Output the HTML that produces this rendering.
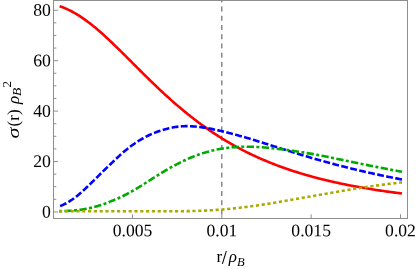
<!DOCTYPE html>
<html><head><meta charset="utf-8"><title>plot</title>
<style>
html,body{margin:0;padding:0;background:#fff;}
body{width:416px;height:269px;overflow:hidden;}
svg{display:block;will-change:transform;}
text{font-family:"Liberation Serif",serif;fill:#000;}
</style></head><body>
<svg width="416" height="269" viewBox="0 0 416 269">
<rect x="0" y="0" width="416" height="269" fill="#fff"/>
<defs><clipPath id="c"><rect x="53.50" y="0.00" width="354.00" height="218.50"/></clipPath></defs>
<line x1="221.84" y1="-2.65" x2="221.84" y2="218.50" stroke="#4d4d4d" stroke-width="1" stroke-dasharray="5.0 4.22" clip-path="url(#c)"/>
<path d="M59.60 6.29 L60.44 6.56 L61.87 7.05 L63.31 7.58 L64.74 8.15 L66.18 8.75 L67.61 9.39 L69.05 10.06 L70.48 10.77 L71.92 11.51 L73.35 12.28 L74.79 13.09 L76.22 13.93 L77.66 14.80 L79.09 15.70 L80.53 16.62 L81.96 17.58 L83.40 18.57 L84.83 19.58 L86.27 20.62 L87.70 21.68 L89.14 22.77 L90.57 23.88 L92.01 25.02 L93.44 26.17 L94.88 27.35 L96.31 28.55 L97.75 29.77 L99.18 31.00 L100.62 32.25 L102.05 33.52 L103.49 34.81 L104.92 36.11 L106.36 37.43 L107.79 38.76 L109.23 40.10 L110.67 41.45 L112.10 42.81 L113.54 44.19 L114.97 45.57 L116.41 46.96 L117.84 48.36 L119.28 49.77 L120.71 51.18 L122.15 52.60 L123.58 54.02 L125.02 55.44 L126.45 56.87 L127.89 58.31 L129.32 59.74 L130.76 61.18 L132.19 62.61 L133.63 64.05 L135.06 65.48 L136.50 66.92 L137.93 68.35 L139.37 69.78 L140.80 71.21 L142.24 72.64 L143.67 74.06 L145.11 75.48 L146.54 76.89 L147.98 78.30 L149.41 79.70 L150.85 81.10 L152.28 82.49 L153.72 83.87 L155.15 85.25 L156.59 86.62 L158.03 87.98 L159.46 89.34 L160.90 90.69 L162.33 92.02 L163.77 93.35 L165.20 94.67 L166.64 95.99 L168.07 97.29 L169.51 98.58 L170.94 99.86 L172.38 101.14 L173.81 102.40 L175.25 103.65 L176.68 104.89 L178.12 106.13 L179.55 107.35 L180.99 108.56 L182.42 109.76 L183.86 110.95 L185.29 112.12 L186.73 113.29 L188.16 114.45 L189.60 115.59 L191.03 116.72 L192.47 117.84 L193.90 118.95 L195.34 120.05 L196.77 121.14 L198.21 122.22 L199.64 123.28 L201.08 124.33 L202.51 125.38 L203.95 126.41 L205.38 127.43 L206.82 128.43 L208.26 129.43 L209.69 130.42 L211.13 131.39 L212.56 132.35 L214.00 133.31 L215.43 134.25 L216.87 135.18 L218.30 136.10 L219.74 137.00 L221.17 137.90 L222.61 138.79 L224.04 139.67 L225.48 140.53 L226.91 141.39 L228.35 142.23 L229.78 143.06 L231.22 143.89 L232.65 144.70 L234.09 145.51 L235.52 146.30 L236.96 147.08 L238.39 147.86 L239.83 148.62 L241.26 149.38 L242.70 150.12 L244.13 150.86 L245.57 151.58 L247.00 152.30 L248.44 153.01 L249.87 153.71 L251.31 154.40 L252.74 155.08 L254.18 155.75 L255.62 156.41 L257.05 157.07 L258.49 157.72 L259.92 158.35 L261.36 158.98 L262.79 159.61 L264.23 160.22 L265.66 160.82 L267.10 161.42 L268.53 162.01 L269.97 162.59 L271.40 163.17 L272.84 163.73 L274.27 164.29 L275.71 164.85 L277.14 165.39 L278.58 165.93 L280.01 166.46 L281.45 166.98 L282.88 167.50 L284.32 168.01 L285.75 168.51 L287.19 169.01 L288.62 169.50 L290.06 169.98 L291.49 170.46 L292.93 170.93 L294.36 171.39 L295.80 171.85 L297.23 172.31 L298.67 172.75 L300.10 173.19 L301.54 173.63 L302.97 174.06 L304.41 174.48 L305.85 174.90 L307.28 175.31 L308.72 175.72 L310.15 176.12 L311.59 176.52 L313.02 176.91 L314.46 177.29 L315.89 177.67 L317.33 178.05 L318.76 178.42 L320.20 178.79 L321.63 179.15 L323.07 179.51 L324.50 179.86 L325.94 180.21 L327.37 180.55 L328.81 180.89 L330.24 181.22 L331.68 181.55 L333.11 181.88 L334.55 182.20 L335.98 182.52 L337.42 182.83 L338.85 183.14 L340.29 183.45 L341.72 183.75 L343.16 184.04 L344.59 184.34 L346.03 184.63 L347.46 184.91 L348.90 185.20 L350.33 185.48 L351.77 185.75 L353.21 186.02 L354.64 186.29 L356.08 186.56 L357.51 186.82 L358.95 187.08 L360.38 187.33 L361.82 187.59 L363.25 187.83 L364.69 188.08 L366.12 188.32 L367.56 188.56 L368.99 188.80 L370.43 189.03 L371.86 189.26 L373.30 189.49 L374.73 189.72 L376.17 189.94 L377.60 190.16 L379.04 190.38 L380.47 190.59 L381.91 190.80 L383.34 191.01 L384.78 191.22 L386.21 191.42 L387.65 191.62 L389.08 191.82 L390.52 192.02 L391.95 192.21 L393.39 192.40 L394.82 192.59 L396.26 192.78 L397.69 192.97 L399.13 193.15 L400.56 193.33 L402.00 193.51" fill="none" stroke-width="2.60" stroke-linejoin="round" stroke="#ff0000" clip-path="url(#c)"/>
<path d="M60.10 206.07 L60.44 205.94 L61.87 205.34 L63.31 204.70 L64.74 204.01 L66.18 203.27 L67.61 202.46 L69.05 201.59 L70.48 200.68 L71.92 199.72 L73.35 198.73 L74.79 197.69 L76.22 196.60 L77.66 195.46 L79.09 194.26 L80.53 193.01 L81.96 191.73 L83.40 190.42 L84.83 189.10 L86.27 187.76 L87.70 186.40 L89.14 185.02 L90.57 183.64 L92.01 182.24 L93.44 180.84 L94.88 179.43 L96.31 178.01 L97.75 176.59 L99.18 175.17 L100.62 173.75 L102.05 172.34 L103.49 170.93 L104.92 169.52 L106.36 168.12 L107.79 166.73 L109.23 165.35 L110.67 163.96 L112.10 162.59 L113.54 161.22 L114.97 159.86 L116.41 158.51 L117.84 157.18 L119.28 155.87 L120.71 154.57 L122.15 153.30 L123.58 152.06 L125.02 150.84 L126.45 149.65 L127.89 148.49 L129.32 147.37 L130.76 146.28 L132.19 145.22 L133.63 144.21 L135.06 143.22 L136.50 142.26 L137.93 141.34 L139.37 140.45 L140.80 139.58 L142.24 138.75 L143.67 137.95 L145.11 137.17 L146.54 136.43 L147.98 135.72 L149.41 135.04 L150.85 134.38 L152.28 133.76 L153.72 133.16 L155.15 132.59 L156.59 132.05 L158.03 131.54 L159.46 131.05 L160.90 130.58 L162.33 130.13 L163.77 129.70 L165.20 129.29 L166.64 128.90 L168.07 128.54 L169.51 128.19 L170.94 127.87 L172.38 127.58 L173.81 127.31 L175.25 127.07 L176.68 126.85 L178.12 126.66 L179.55 126.50 L180.99 126.37 L182.42 126.27 L183.86 126.20 L185.29 126.16 L186.73 126.15 L188.16 126.17 L189.60 126.21 L191.03 126.27 L192.47 126.35 L193.90 126.45 L195.34 126.56 L196.77 126.70 L198.21 126.85 L199.64 127.02 L201.08 127.20 L202.51 127.40 L203.95 127.61 L205.38 127.84 L206.82 128.08 L208.26 128.33 L209.69 128.60 L211.13 128.87 L212.56 129.15 L214.00 129.45 L215.43 129.75 L216.87 130.06 L218.30 130.38 L219.74 130.70 L221.17 131.04 L222.61 131.38 L224.04 131.72 L225.48 132.07 L226.91 132.43 L228.35 132.79 L229.78 133.16 L231.22 133.54 L232.65 133.91 L234.09 134.30 L235.52 134.69 L236.96 135.08 L238.39 135.48 L239.83 135.88 L241.26 136.28 L242.70 136.69 L244.13 137.11 L245.57 137.52 L247.00 137.94 L248.44 138.36 L249.87 138.79 L251.31 139.22 L252.74 139.65 L254.18 140.08 L255.62 140.52 L257.05 140.96 L258.49 141.40 L259.92 141.84 L261.36 142.29 L262.79 142.74 L264.23 143.19 L265.66 143.64 L267.10 144.09 L268.53 144.55 L269.97 145.01 L271.40 145.47 L272.84 145.93 L274.27 146.38 L275.71 146.84 L277.14 147.30 L278.58 147.76 L280.01 148.21 L281.45 148.67 L282.88 149.12 L284.32 149.58 L285.75 150.03 L287.19 150.48 L288.62 150.93 L290.06 151.38 L291.49 151.83 L292.93 152.27 L294.36 152.71 L295.80 153.16 L297.23 153.60 L298.67 154.03 L300.10 154.47 L301.54 154.91 L302.97 155.34 L304.41 155.77 L305.85 156.20 L307.28 156.62 L308.72 157.05 L310.15 157.47 L311.59 157.89 L313.02 158.30 L314.46 158.72 L315.89 159.13 L317.33 159.54 L318.76 159.95 L320.20 160.35 L321.63 160.75 L323.07 161.15 L324.50 161.55 L325.94 161.94 L327.37 162.34 L328.81 162.73 L330.24 163.11 L331.68 163.50 L333.11 163.88 L334.55 164.26 L335.98 164.64 L337.42 165.01 L338.85 165.39 L340.29 165.76 L341.72 166.12 L343.16 166.49 L344.59 166.85 L346.03 167.22 L347.46 167.57 L348.90 167.93 L350.33 168.29 L351.77 168.64 L353.21 168.99 L354.64 169.33 L356.08 169.68 L357.51 170.02 L358.95 170.36 L360.38 170.70 L361.82 171.03 L363.25 171.36 L364.69 171.69 L366.12 172.02 L367.56 172.35 L368.99 172.67 L370.43 172.99 L371.86 173.31 L373.30 173.62 L374.73 173.94 L376.17 174.25 L377.60 174.56 L379.04 174.86 L380.47 175.17 L381.91 175.47 L383.34 175.77 L384.78 176.07 L386.21 176.36 L387.65 176.65 L389.08 176.94 L390.52 177.23 L391.95 177.51 L393.39 177.80 L394.82 178.08 L396.26 178.36 L397.69 178.63 L399.13 178.91 L400.56 179.18 L402.00 179.45" fill="none" stroke-width="2.60" stroke-linejoin="round" stroke="#0000ff" stroke-dasharray="6.84 2.38" clip-path="url(#c)"/>
<path d="M59.00 211.15 L60.44 211.13 L61.87 211.11 L63.31 211.07 L64.74 211.03 L66.18 210.97 L67.61 210.90 L69.05 210.82 L70.48 210.72 L71.92 210.61 L73.35 210.50 L74.79 210.37 L76.22 210.22 L77.66 210.07 L79.09 209.90 L80.53 209.71 L81.96 209.51 L83.40 209.28 L84.83 209.04 L86.27 208.78 L87.70 208.50 L89.14 208.20 L90.57 207.88 L92.01 207.55 L93.44 207.19 L94.88 206.82 L96.31 206.44 L97.75 206.03 L99.18 205.60 L100.62 205.15 L102.05 204.68 L103.49 204.19 L104.92 203.67 L106.36 203.13 L107.79 202.56 L109.23 201.98 L110.67 201.39 L112.10 200.80 L113.54 200.22 L114.97 199.64 L116.41 199.05 L117.84 198.44 L119.28 197.81 L120.71 197.16 L122.15 196.49 L123.58 195.77 L125.02 195.03 L126.45 194.28 L127.89 193.51 L129.32 192.73 L130.76 191.94 L132.19 191.13 L133.63 190.31 L135.06 189.47 L136.50 188.62 L137.93 187.76 L139.37 186.88 L140.80 185.99 L142.24 185.08 L143.67 184.17 L145.11 183.25 L146.54 182.34 L147.98 181.42 L149.41 180.51 L150.85 179.59 L152.28 178.68 L153.72 177.77 L155.15 176.87 L156.59 175.97 L158.03 175.08 L159.46 174.19 L160.90 173.31 L162.33 172.44 L163.77 171.57 L165.20 170.72 L166.64 169.88 L168.07 169.04 L169.51 168.22 L170.94 167.41 L172.38 166.61 L173.81 165.83 L175.25 165.05 L176.68 164.30 L178.12 163.55 L179.55 162.82 L180.99 162.11 L182.42 161.41 L183.86 160.72 L185.29 160.05 L186.73 159.40 L188.16 158.77 L189.60 158.15 L191.03 157.54 L192.47 156.96 L193.90 156.39 L195.34 155.83 L196.77 155.30 L198.21 154.78 L199.64 154.28 L201.08 153.80 L202.51 153.33 L203.95 152.88 L205.38 152.45 L206.82 152.03 L208.26 151.63 L209.69 151.25 L211.13 150.89 L212.56 150.54 L214.00 150.21 L215.43 149.89 L216.87 149.59 L218.30 149.31 L219.74 149.04 L221.17 148.79 L222.61 148.55 L224.04 148.33 L225.48 148.13 L226.91 147.94 L228.35 147.76 L229.78 147.60 L231.22 147.45 L232.65 147.32 L234.09 147.20 L235.52 147.10 L236.96 147.00 L238.39 146.93 L239.83 146.86 L241.26 146.80 L242.70 146.76 L244.13 146.73 L245.57 146.72 L247.00 146.71 L248.44 146.71 L249.87 146.73 L251.31 146.76 L252.74 146.79 L254.18 146.84 L255.62 146.90 L257.05 146.96 L258.49 147.04 L259.92 147.13 L261.36 147.22 L262.79 147.32 L264.23 147.43 L265.66 147.55 L267.10 147.68 L268.53 147.82 L269.97 147.96 L271.40 148.11 L272.84 148.26 L274.27 148.42 L275.71 148.59 L277.14 148.75 L278.58 148.92 L280.01 149.10 L281.45 149.28 L282.88 149.46 L284.32 149.65 L285.75 149.84 L287.19 150.03 L288.62 150.23 L290.06 150.43 L291.49 150.64 L292.93 150.84 L294.36 151.06 L295.80 151.27 L297.23 151.49 L298.67 151.71 L300.10 151.94 L301.54 152.17 L302.97 152.40 L304.41 152.64 L305.85 152.88 L307.28 153.12 L308.72 153.36 L310.15 153.61 L311.59 153.86 L313.02 154.12 L314.46 154.38 L315.89 154.64 L317.33 154.90 L318.76 155.17 L320.20 155.44 L321.63 155.72 L323.07 156.00 L324.50 156.28 L325.94 156.56 L327.37 156.85 L328.81 157.14 L330.24 157.44 L331.68 157.73 L333.11 158.03 L334.55 158.32 L335.98 158.62 L337.42 158.92 L338.85 159.21 L340.29 159.51 L341.72 159.81 L343.16 160.11 L344.59 160.40 L346.03 160.70 L347.46 161.00 L348.90 161.30 L350.33 161.60 L351.77 161.89 L353.21 162.19 L354.64 162.49 L356.08 162.78 L357.51 163.08 L358.95 163.37 L360.38 163.67 L361.82 163.96 L363.25 164.25 L364.69 164.55 L366.12 164.84 L367.56 165.13 L368.99 165.42 L370.43 165.71 L371.86 166.00 L373.30 166.28 L374.73 166.57 L376.17 166.85 L377.60 167.14 L379.04 167.42 L380.47 167.70 L381.91 167.98 L383.34 168.26 L384.78 168.54 L386.21 168.82 L387.65 169.10 L389.08 169.37 L390.52 169.65 L391.95 169.92 L393.39 170.19 L394.82 170.46 L396.26 170.73 L397.69 170.99 L399.13 171.26 L400.56 171.53 L402.00 171.79" fill="none" stroke-width="2.60" stroke-linejoin="round" stroke="#00aa00" stroke-dasharray="3.0 2.4 7.3 2.4" clip-path="url(#c)"/>
<path d="M59.00 211.32 L60.44 211.32 L61.87 211.32 L63.31 211.32 L64.74 211.32 L66.18 211.32 L67.61 211.32 L69.05 211.32 L70.48 211.32 L71.92 211.32 L73.35 211.32 L74.79 211.32 L76.22 211.32 L77.66 211.32 L79.09 211.32 L80.53 211.32 L81.96 211.32 L83.40 211.32 L84.83 211.32 L86.27 211.32 L87.70 211.32 L89.14 211.32 L90.57 211.32 L92.01 211.32 L93.44 211.32 L94.88 211.32 L96.31 211.32 L97.75 211.32 L99.18 211.32 L100.62 211.32 L102.05 211.32 L103.49 211.32 L104.92 211.32 L106.36 211.32 L107.79 211.32 L109.23 211.32 L110.67 211.32 L112.10 211.32 L113.54 211.32 L114.97 211.32 L116.41 211.32 L117.84 211.32 L119.28 211.32 L120.71 211.32 L122.15 211.32 L123.58 211.32 L125.02 211.32 L126.45 211.32 L127.89 211.32 L129.32 211.32 L130.76 211.32 L132.19 211.31 L133.63 211.31 L135.06 211.31 L136.50 211.31 L137.93 211.31 L139.37 211.31 L140.80 211.31 L142.24 211.30 L143.67 211.30 L145.11 211.30 L146.54 211.29 L147.98 211.29 L149.41 211.29 L150.85 211.28 L152.28 211.28 L153.72 211.27 L155.15 211.27 L156.59 211.27 L158.03 211.27 L159.46 211.27 L160.90 211.27 L162.33 211.27 L163.77 211.26 L165.20 211.26 L166.64 211.26 L168.07 211.26 L169.51 211.26 L170.94 211.26 L172.38 211.25 L173.81 211.25 L175.25 211.24 L176.68 211.23 L178.12 211.22 L179.55 211.21 L180.99 211.20 L182.42 211.19 L183.86 211.17 L185.29 211.15 L186.73 211.13 L188.16 211.11 L189.60 211.09 L191.03 211.06 L192.47 211.03 L193.90 210.99 L195.34 210.95 L196.77 210.91 L198.21 210.87 L199.64 210.82 L201.08 210.77 L202.51 210.71 L203.95 210.66 L205.38 210.59 L206.82 210.52 L208.26 210.45 L209.69 210.38 L211.13 210.29 L212.56 210.21 L214.00 210.12 L215.43 210.02 L216.87 209.92 L218.30 209.82 L219.74 209.71 L221.17 209.59 L222.61 209.47 L224.04 209.35 L225.48 209.22 L226.91 209.09 L228.35 208.95 L229.78 208.81 L231.22 208.67 L232.65 208.52 L234.09 208.37 L235.52 208.21 L236.96 208.06 L238.39 207.89 L239.83 207.73 L241.26 207.56 L242.70 207.39 L244.13 207.21 L245.57 207.03 L247.00 206.85 L248.44 206.66 L249.87 206.47 L251.31 206.28 L252.74 206.08 L254.18 205.88 L255.62 205.68 L257.05 205.47 L258.49 205.26 L259.92 205.05 L261.36 204.83 L262.79 204.62 L264.23 204.40 L265.66 204.18 L267.10 203.95 L268.53 203.72 L269.97 203.49 L271.40 203.26 L272.84 203.03 L274.27 202.79 L275.71 202.55 L277.14 202.31 L278.58 202.07 L280.01 201.83 L281.45 201.58 L282.88 201.34 L284.32 201.09 L285.75 200.84 L287.19 200.59 L288.62 200.34 L290.06 200.09 L291.49 199.83 L292.93 199.58 L294.36 199.32 L295.80 199.07 L297.23 198.81 L298.67 198.55 L300.10 198.29 L301.54 198.04 L302.97 197.78 L304.41 197.52 L305.85 197.26 L307.28 197.00 L308.72 196.74 L310.15 196.49 L311.59 196.23 L313.02 195.97 L314.46 195.71 L315.89 195.45 L317.33 195.20 L318.76 194.94 L320.20 194.68 L321.63 194.43 L323.07 194.18 L324.50 193.92 L325.94 193.67 L327.37 193.42 L328.81 193.17 L330.24 192.92 L331.68 192.67 L333.11 192.42 L334.55 192.17 L335.98 191.93 L337.42 191.68 L338.85 191.44 L340.29 191.19 L341.72 190.95 L343.16 190.71 L344.59 190.47 L346.03 190.23 L347.46 190.00 L348.90 189.76 L350.33 189.53 L351.77 189.30 L353.21 189.06 L354.64 188.84 L356.08 188.61 L357.51 188.38 L358.95 188.16 L360.38 187.93 L361.82 187.71 L363.25 187.50 L364.69 187.28 L366.12 187.06 L367.56 186.85 L368.99 186.64 L370.43 186.43 L371.86 186.22 L373.30 186.02 L374.73 185.81 L376.17 185.61 L377.60 185.41 L379.04 185.21 L380.47 185.02 L381.91 184.83 L383.34 184.63 L384.78 184.45 L386.21 184.26 L387.65 184.07 L389.08 183.89 L390.52 183.71 L391.95 183.53 L393.39 183.36 L394.82 183.19 L396.26 183.01 L397.69 182.85 L399.13 182.68 L400.56 182.51 L402.00 182.35" fill="none" stroke-width="2.60" stroke-linejoin="round" stroke="#aaaa00" stroke-dasharray="3.2 2.6" clip-path="url(#c)"/>
<rect x="53.50" y="0.50" width="354.00" height="218.00" fill="none" stroke="#8e8e8e" stroke-width="1"/>
<path d="M53.50 211.95 h4.60 M53.50 199.34 h2.80 M53.50 186.73 h2.80 M53.50 174.13 h2.80 M53.50 161.52 h4.60 M53.50 148.91 h2.80 M53.50 136.31 h2.80 M53.50 123.70 h2.80 M53.50 111.09 h4.60 M53.50 98.48 h2.80 M53.50 85.87 h2.80 M53.50 73.27 h2.80 M53.50 60.66 h4.60 M53.50 48.05 h2.80 M53.50 35.44 h2.80 M53.50 22.84 h2.80 M53.50 10.23 h4.60 M132.50 218.50 v-4.20 M221.84 218.50 v-4.20 M311.17 218.50 v-4.20 M400.50 218.50 v-4.20" fill="none" stroke="#858585" stroke-width="0.9"/>
<text transform="translate(50.9,217.55) rotate(0.03) scale(1.000,1.0)" font-size="17.7" text-anchor="end">0</text>
<text transform="translate(50.9,167.12) rotate(0.03) scale(1.000,1.0)" font-size="17.7" text-anchor="end">20</text>
<text transform="translate(50.9,116.69) rotate(0.03) scale(1.000,1.0)" font-size="17.7" text-anchor="end">40</text>
<text transform="translate(50.9,66.26) rotate(0.03) scale(1.000,1.0)" font-size="17.7" text-anchor="end">60</text>
<text transform="translate(50.9,15.83) rotate(0.03) scale(1.000,1.0)" font-size="17.7" text-anchor="end">80</text>
<text transform="translate(132.50,236.3) rotate(0.03)" font-size="17.6" text-anchor="middle">0.005</text>
<text transform="translate(221.84,236.3) rotate(0.03)" font-size="17.6" text-anchor="middle">0.01</text>
<text transform="translate(311.17,236.3) rotate(0.03)" font-size="17.6" text-anchor="middle">0.015</text>
<text transform="translate(400.50,236.3) rotate(0.03)" font-size="17.6" text-anchor="middle">0.02</text>
<text x="216.4" y="261.9" font-size="17">r</text>
<line x1="222.4" y1="263.9" x2="226.3" y2="251.2" stroke="#000" stroke-width="1.05"/>
<text x="228.8" y="261.9" font-size="17" font-style="italic">ρ</text>
<text x="237.1" y="265.8" font-size="12.5" font-style="italic">B</text>
<text transform="translate(18.50,138.60) rotate(-90) scale(1.3,0.94)" font-size="17" font-style="italic">σ</text>
<text transform="translate(18.50,126.40) rotate(-90)" font-size="17">(r)</text>
<text transform="translate(18.50,103.90) rotate(-90)" font-size="17" font-style="italic">ρ</text>
<text transform="translate(20.90,95.90) rotate(-90)" font-size="13.5" font-style="italic">B</text>
<text transform="translate(10.90,87.60) rotate(-90)" font-size="13">2</text>
</svg></body></html>
